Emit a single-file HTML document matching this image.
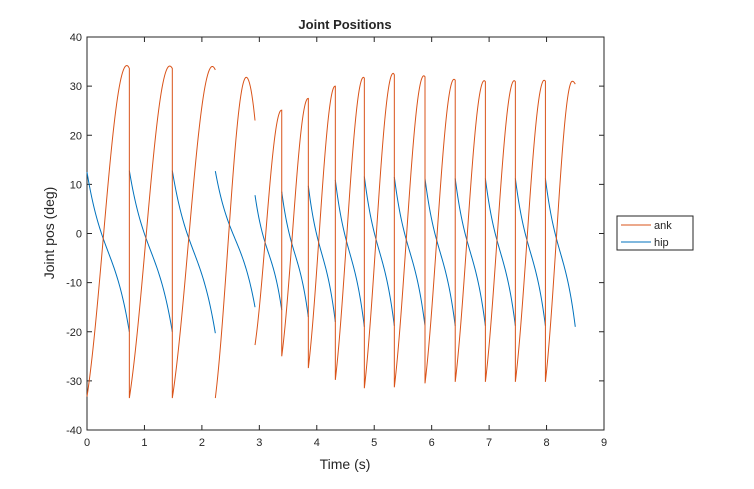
<!DOCTYPE html>
<html><head><meta charset="utf-8"><style>
body{margin:0;background:#fff;}
svg text{font-family:"Liberation Sans",Arial,sans-serif;fill:#262626;}
</style></head><body>
<svg id="chart" width="754" height="484" viewBox="0 0 754 484" xmlns="http://www.w3.org/2000/svg">
<rect x="0" y="0" width="754" height="484" fill="#fff"/>
<rect x="87" y="37" width="517" height="393" fill="#fff" stroke="#262626" stroke-width="1"/>
<g id="ticks"></g>
<g id="series"></g>
<text x="345" y="29" font-size="13" font-weight="bold" text-anchor="middle" fill="#000">Joint Positions</text>
<text x="345" y="469" font-size="14" text-anchor="middle">Time (s)</text>
<text transform="translate(54,233) rotate(-90)" font-size="14" text-anchor="middle">Joint pos (deg)</text>
<g>
<rect x="617" y="216" width="76" height="34" fill="#fff" stroke="#262626" stroke-width="1"/>
<line x1="621" y1="225" x2="651" y2="225" stroke="#D95319" stroke-width="1"/>
<text x="654" y="229" font-size="11">ank</text>
<line x1="621" y1="242" x2="651" y2="242" stroke="#0072BD" stroke-width="1"/>
<text x="654" y="246" font-size="11">hip</text>
</g>
</svg>
<script>
const xTicks=[0,1,2,3,4,5,6,7,8,9];
const yTicks=[-40,-30,-20,-10,0,10,20,30,40];
const cycleStart=[0,0.737,1.485,2.234,2.925,3.39,3.853,4.323,4.828,5.35,5.884,6.41,6.935,7.457,7.98];
const cycleEnd=[0.737,1.485,2.234,2.925,3.39,3.853,4.323,4.828,5.35,5.884,6.41,6.935,7.457,7.98,8.5];
const ankMin=[-33.2,-33.5,-33.5,-33.5,-22.7,-25,-27.4,-29.8,-31.5,-31.3,-30.5,-30.2,-30.2,-30.2,-30.2];
const ankPeak=[34.2,34.1,34,31.8,25.1,27.5,30,31.8,32.6,32.1,31.4,31.1,31.1,31.2,31];
const ankEnd=[33.6,33.6,33.3,23,25.1,27.5,30,31.6,32.3,31.9,31.2,30.9,30.9,31,30.4];
const ankPeakFrac=[0.94,0.94,0.93,0.78,0.99,0.99,0.99,0.97,0.96,0.96,0.96,0.96,0.96,0.96,0.9];
const ankConnect=[false,true,true,false,false,true,true,true,true,true,true,true,true,true,true];
const hipStart=[12.5,12.8,12.8,12.7,7.8,8.5,9.7,10.9,11.6,11.5,11.2,11.2,11.2,11.2,11.2];
const hipEnd=[-20,-20,-20.3,-15,-15.6,-17,-18,-19,-18.8,-18.8,-18.8,-18.8,-18.8,-18.8,-19];

const X0=87,X1=604,Y0=430,Y1=37;
function sx(t){return X0+(t-0)/(9-0)*(X1-X0);}
function sy(v){return Y0-(v+40)/80*(Y0-Y1);}
const NS="http://www.w3.org/2000/svg";
const tg=document.getElementById('ticks');
function mk(tag,attrs,parent){const e=document.createElementNS(NS,tag);for(const k in attrs)e.setAttribute(k,attrs[k]);parent.appendChild(e);return e;}
xTicks.forEach(t=>{
  const x=sx(t);
  const a=mk('line',{x1:x,y1:Y0,x2:x,y2:Y0-5,stroke:'#262626'},tg);
  
  
  const b=mk('line',{x1:x,y1:Y1,x2:x,y2:Y1+5,stroke:'#262626'},tg);
  
  
  const l=mk('text',{x:x,y:Y0+16,'font-size':11,'text-anchor':'middle'},tg);
  l.textContent=t;
  
  
});
yTicks.forEach(v=>{
  const y=sy(v);
  const a=mk('line',{x1:X0,y1:y,x2:X0+5,y2:y,stroke:'#262626'},tg);
  
  
  const b=mk('line',{x1:X1,y1:y,x2:X1-5,y2:y,stroke:'#262626'},tg);
  
  
  const l=mk('text',{x:X0-5,y:y+4,'font-size':11,'text-anchor':'end'},tg);
  l.textContent=v;
  
  
});
const sg=document.getElementById('series');
const N=50;
let ankD='';
for(let i=0;i<cycleStart.length;i++){
  const t0=cycleStart[i],t1=cycleEnd[i],pf=ankPeakFrac[i];
  for(let k=0;k<=N;k++){
    const u=k/N;let v;
    if(u<=pf){const w=u/pf;const g=0.5*(1-Math.cos(Math.PI*w))/2*2*0.5+0.5*Math.sin(Math.PI/2*w);v=ankMin[i]+(ankPeak[i]-ankMin[i])*g;}
    else{const w=(u-pf)/(1-pf);v=ankPeak[i]-(ankPeak[i]-ankEnd[i])*w*w;}
    const cmd=(k===0&&!ankConnect[i])?'M':'L';
    ankD+=(ankD===''?'M':cmd)+sx(t0+u*(t1-t0)).toFixed(2)+','+sy(v).toFixed(2)+' ';
  }
}
let hipD='';
for(let i=0;i<cycleStart.length;i++){
  const t0=cycleStart[i],t1=cycleEnd[i];
  for(let k=0;k<=N;k++){
    const u=k/N;const s=2*u-1;
    const g=0.5+0.5*(0.3*s*s*s+0.7*s);
    const v=hipStart[i]+(hipEnd[i]-hipStart[i])*g;
    hipD+=(k===0?'M':'L')+sx(t0+u*(t1-t0)).toFixed(2)+','+sy(v).toFixed(2)+' ';
  }
}
const hp=mk('path',{d:hipD,fill:'none',stroke:'#0072BD','stroke-width':1},sg);


const ap=mk('path',{d:ankD,fill:'none',stroke:'#D95319','stroke-width':1},sg);


</script>
</body></html>
